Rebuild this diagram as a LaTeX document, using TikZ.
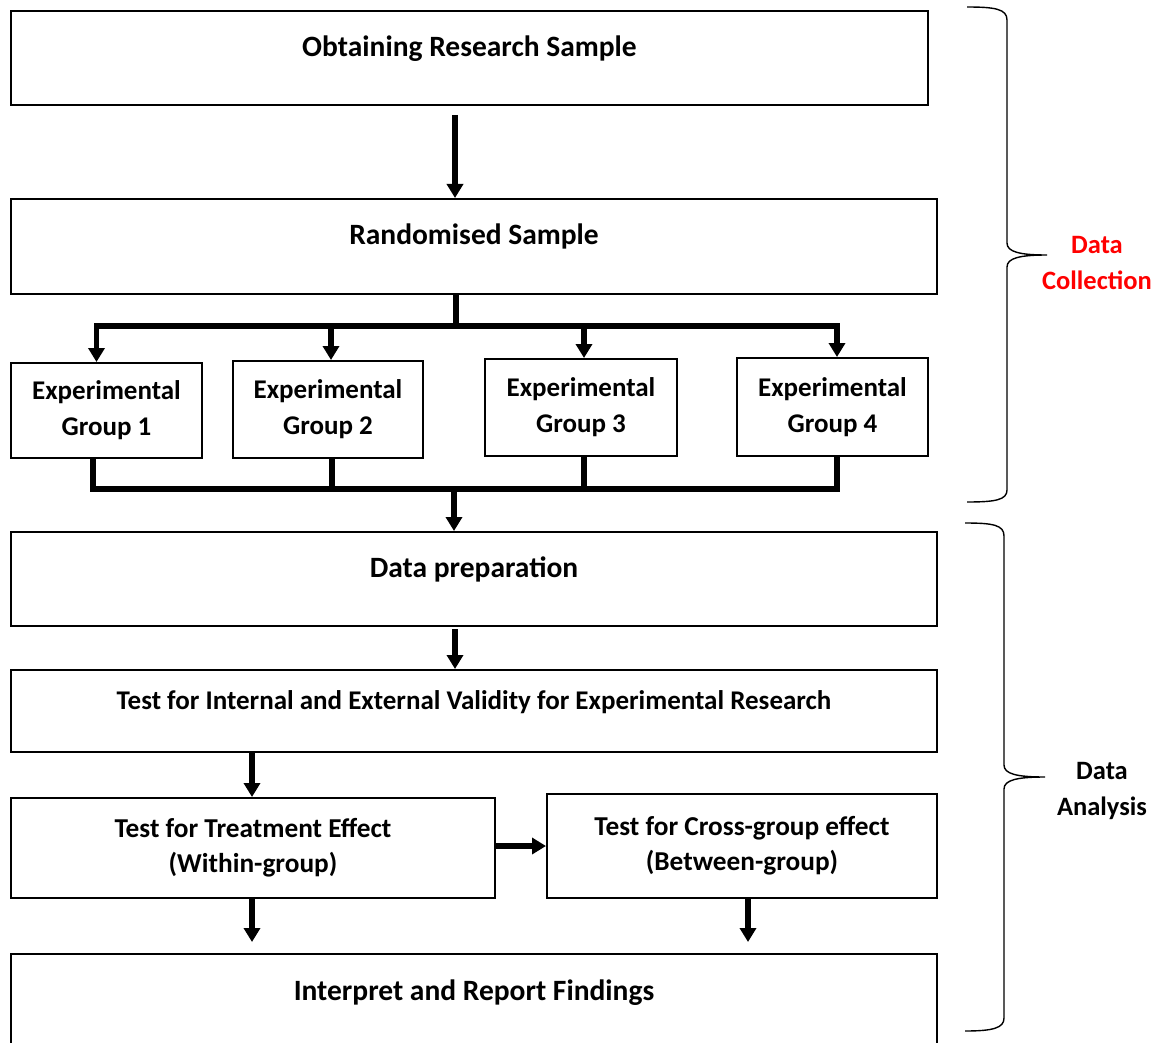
\documentclass[tikz,border=0pt]{standalone}
\usepackage{fontspec}
\setmainfont{Carlito}
\usetikzlibrary{arrows.meta}
\definecolor{dcred}{RGB}{255,0,0}
\tikzset{
  bx/.style={draw, line width=2pt, inner xsep=0pt, inner ysep=0pt, anchor=north west,
    font=\fontsize{29.5}{36}\selectfont\bfseries},
  gbx/.style={bx, align=center, font=\fontsize{27}{36}\selectfont\bfseries},
  arr/.style={line width=5.5pt, -{Triangle[width=16pt,length=14pt]}},
  ln/.style={line width=5.5pt},
  brace/.style={line width=1.4pt},
  blab/.style={align=center, font=\fontsize{26.5}{36}\selectfont\bfseries}
}
\begin{document}
\begin{tikzpicture}[x=1pt,y=-1pt]
\useasboundingbox (0,0) rectangle (1158,1043);
% boxes
\node[bx, minimum width=917pt, text height=45.5pt, text depth=48.5pt] (obt) at (10,10) {Obtaining Research Sample};
\node[bx, minimum width=926pt, text height=45.5pt, text depth=49.5pt] (rand) at (10,198) {Randomised Sample};
\node[gbx, minimum width=191pt, minimum height=95pt] (g1) at (10,362) {Experimental\\Group 1};
\node[gbx, minimum width=190pt, minimum height=97pt] (g2) at (232,360) {Experimental\\Group 2};
\node[gbx, minimum width=192pt, minimum height=97pt] (g3) at (484,358) {Experimental\\Group 3};
\node[gbx, minimum width=191pt, minimum height=98pt] (g4) at (736,357) {Experimental\\Group 4};
\node[bx, minimum width=926pt, text height=45.5pt, text depth=48.5pt] (dp) at (10,531) {Data preparation};
\node[bx, minimum width=926pt, text height=39.5pt, text depth=42.5pt, font=\fontsize{27}{36}\selectfont\bfseries] (val) at (10,669) {Test for Internal and External Validity for Experimental Research};
\node[gbx, minimum width=484pt, minimum height=100pt, font=\fontsize{27.3}{35}\selectfont\bfseries] (treat) at (10,797) {Test for Treatment Effect\\(Within-group)};
\node[gbx, minimum width=390pt, minimum height=104pt, font=\fontsize{27.3}{35}\selectfont\bfseries] (cross) at (546,793) {Test for Cross-group effect\\(Between-group)};
\node[bx, minimum width=926pt, text height=46.5pt, text depth=50.5pt] (interp) at (10,953) {Interpret and Report Findings};
% connectors
\draw[arr, shorten <=9pt] ([xshift=-14.5pt]obt.south) -- ([xshift=-19pt]rand.north);
\draw[ln] ([xshift=-18pt]rand.south) -- ++(0,31) coordinate (split);
\draw[arr] (split) -| ([xshift=-10pt]g1.north);
\draw[arr] (split) -| ([xshift=3pt]g2.north);
\draw[arr] (split) -| ([xshift=3pt]g3.north);
\draw[arr] (split) -| ([xshift=4.5pt]g4.north);
\coordinate (merge) at (454,489);
\draw[ln] ([xshift=-13.5pt]g1.south) |- (merge);
\draw[ln] ([xshift=4pt]g2.south) |- (merge);
\draw[ln] ([xshift=3pt]g3.south) |- (merge);
\draw[ln] ([xshift=4.5pt]g4.south) |- (merge);
\draw[arr, shorten <=-2pt] (merge) -- (merge |- dp.north);
\draw[arr, shorten <=2pt] ([xshift=-19pt]dp.south) -- ([xshift=-19pt]val.north);
\draw[arr] ([xshift=-1pt]val.south -| treat.north) -- ([xshift=-1pt]treat.north);
\draw[arr] ([yshift=2pt]treat.east) -- ([yshift=2pt]treat.east -| cross.west);
\draw[arr, shorten >=11pt] ([xshift=-1pt]treat.south) -- ([xshift=-1pt]treat.south |- interp.north);
\draw[arr, shorten >=11pt] ([xshift=6pt]cross.south) -- ([xshift=6pt]cross.south |- interp.north);
% braces
\draw[brace] (967,7) .. controls (995,7) and (1007,9) .. (1007,20) -- (1007,243)
  .. controls (1007,252) and (1020,255) .. (1047,255)
  .. controls (1020,255) and (1007,258) .. (1007,267) -- (1007,490)
  .. controls (1007,500) and (995,502) .. (967,502);
\draw[brace] (965,523) .. controls (993,523) and (1004,525) .. (1004,536) -- (1004,765)
  .. controls (1004,774) and (1017,777) .. (1045,777)
  .. controls (1017,777) and (1004,780) .. (1004,789) -- (1004,1018)
  .. controls (1004,1028) and (993,1031) .. (965,1031);
\node[blab, text=dcred] (dc) at (1097,263) {Data\\Collection};
\node[blab] (da) at (1102,791) {Data\\Analysis};
\end{tikzpicture}
\end{document}
